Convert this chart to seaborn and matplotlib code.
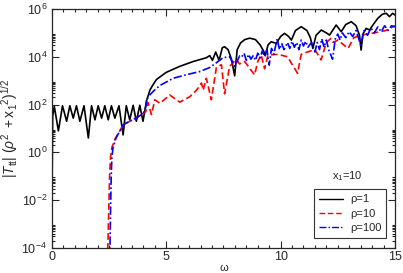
import matplotlib
matplotlib.use("Agg")
import matplotlib.pyplot as plt
import numpy as np
import pandas as pd
import seaborn as sns
from matplotlib.ticker import FixedLocator, NullFormatter, MultipleLocator

# values, stored as log10
rho1_w = [0.0, 0.03, 0.1, 0.28, 0.46, 0.64, 0.78, 0.93, 1.07, 1.22, 1.40, 1.59, 1.73, 1.88,
          2.02, 2.17, 2.31, 2.46, 2.6, 2.75, 2.93, 3.11, 3.25, 3.4, 3.55, 3.69, 3.84, 3.98,
          4.1, 4.13, 4.2, 4.28, 4.4, 4.57, 5.0, 5.59, 6.17, 6.75, 6.9, 7.02, 7.16, 7.31,
          7.45, 7.55, 7.7, 7.85, 7.99, 8.1, 8.25, 8.43, 8.65, 8.9, 9.1, 9.25, 9.33, 9.45,
          9.59, 9.81, 10.0, 10.17, 10.35, 10.47, 10.65, 10.9, 11.15, 11.3, 11.41, 11.55,
          11.78, 12.0, 12.14, 12.43, 12.65, 12.85, 13.09, 13.3, 13.45, 13.52, 13.6, 13.74,
          13.89, 14.05, 14.25, 14.45, 14.62, 14.76, 14.9, 15.0]
rho1_log = [-2.0, 1.5, 1.93, 0.9, 1.95, 1.3, 1.95, 1.43, 1.95, 1.3, 1.95, 0.6, 1.95, 1.36,
            1.95, 1.43, 1.95, 1.36, 1.95, 1.43, 1.95, 0.73, 1.95, 1.36, 1.97, 1.3, 1.97, 1.3,
            1.95, 2.15, 2.35, 2.6, 2.8, 3.05, 3.35, 3.6, 3.8, 3.96, 4.05, 3.85, 4.2, 3.85,
            4.38, 4.42, 4.3, 3.9, 3.2, 4.3, 4.58, 4.72, 4.78, 4.72, 4.5, 4.25, 4.05, 4.5,
            4.63, 4.56, 4.85, 4.98, 4.85, 4.70, 5.1, 5.26, 5.1, 4.8, 4.35, 4.9,
            5.12, 5.0, 4.91, 5.33, 5.05, 5.35, 5.47, 5.3, 4.9, 4.28, 4.95, 5.19,
            5.12, 5.35, 5.61, 5.78, 5.82, 5.68, 5.82, 5.75]

rho10_w = [2.43, 2.48, 2.52, 2.56, 2.62, 2.75, 3.0, 3.1, 3.4, 3.7, 3.95, 4.1, 4.2, 4.35,
           4.5, 4.72, 5.15, 5.59, 6.03, 6.32, 6.54, 6.61, 6.75, 6.97, 7.19, 7.41, 7.55,
           7.77, 8.06, 8.2, 8.43, 8.86, 9.0, 9.15, 9.3, 9.45, 9.9, 10.3, 10.74, 10.9, 11.2,
           11.5, 11.77, 12.0, 12.2, 12.3, 12.5, 12.95, 13.2, 13.5, 13.8, 14.1, 14.6, 15.0]
rho10_log = [-4.5, -2.5, -1.0, -0.2, 0.2, 0.55, 0.95, 1.15, 1.3, 1.45, 1.6, 1.7, 2.08, 1.58,
             2.2, 2.05, 2.4, 2.1, 2.33, 2.6, 2.9, 2.6, 3.1, 2.2, 3.55, 3.67, 2.45,
             3.6, 3.9, 3.7, 3.8, 3.24, 3.8, 4.08, 3.5, 4.08, 4.1, 4.0, 3.31, 4.1, 4.21,
             4.3, 3.87, 4.6, 4.77, 4.6, 4.7, 4.35, 4.8, 4.9, 4.95, 5.0, 5.1, 5.3]

rho100_w = [2.53, 2.56, 2.59, 2.62, 2.67, 2.8, 3.0, 3.1, 3.4, 3.7, 3.95, 4.06, 4.2, 4.48,
            4.72, 5.3, 5.88, 6.46, 6.9, 7.19, 7.48, 7.77, 7.99, 8.21, 8.3, 8.4, 8.5, 8.6,
            8.7, 8.8, 8.9, 9.0, 9.1, 9.2, 9.3, 9.4, 9.5, 9.6, 9.7, 9.85, 9.95, 10.05, 10.15,
            10.3, 10.4, 10.5, 10.6, 10.7, 10.8, 10.9, 11.0, 11.1, 11.2, 11.35, 11.5, 11.6,
            11.7, 11.8, 11.9, 12.0, 12.1, 12.27, 12.4, 12.5, 12.6, 12.7, 12.85, 13.0, 13.15,
            13.3, 13.5, 13.65, 13.8, 13.95, 14.1, 14.25, 14.4, 14.55, 14.7, 14.85, 15.0]
rho100_log = [-4.5, -2.5, -1.0, -0.2, 0.2, 0.6, 0.95, 1.15, 1.3, 1.45, 1.6, 1.75, 2.33, 2.6,
              2.8, 3.1, 3.25, 3.38, 3.55, 3.75, 3.96, 4.0, 3.6, 4.04, 4.0, 4.15, 3.85, 4.1,
              3.9, 4.05, 3.85, 4.15, 3.95, 4.25, 4.0, 4.3, 3.65, 4.35, 4.1, 4.75, 4.3, 4.55, 4.3,
              4.6, 4.35, 4.65, 4.4, 4.6, 4.3, 4.7, 4.45, 4.65, 4.4, 4.6, 4.2, 4.6,
              4.3, 4.75, 4.4, 4.7, 4.3, 3.9, 4.8, 4.95, 4.7, 5.0, 4.8, 5.05, 4.85,
              5.1, 4.5, 5.1, 4.9, 5.2, 5.0, 5.25, 5.05, 5.3, 5.1, 5.3, 5.25]

labels = ['ρ=1', 'ρ=10', 'ρ=100']
colors = ['black', 'red', 'blue']

frames = []
for lab, w, lg in zip(labels, [rho1_w, rho10_w, rho100_w], [rho1_log, rho10_log, rho100_log]):
    frames.append(pd.DataFrame({'omega': w, 'val': 10 ** np.array(lg), 'rho': lab}))
df = pd.concat(frames, ignore_index=True)

sns.set_style('ticks')
plt.rcParams['font.family'] = ['Liberation Sans', 'DejaVu Sans']
plt.rcParams['mathtext.fontset'] = 'custom'
plt.rcParams['mathtext.rm'] = 'Liberation Sans'
plt.rcParams['mathtext.it'] = 'Liberation Sans:italic'

fig = plt.figure(figsize=(4.03, 2.73), dpi=100)
ax = fig.add_axes([0.129, 0.092, 0.851, 0.875])

sns.lineplot(data=df, x='omega', y='val', hue='rho', style='rho', hue_order=labels,
             style_order=labels, palette=colors,
             dashes={'ρ=1': '', 'ρ=10': (4, 2), 'ρ=100': (5, 1.5, 1, 1.5)},
             estimator=None, sort=False, linewidth=1.2, ax=ax, legend=False)

ax.set_yscale('log')
ax.set_xlim(0, 15)
ax.set_ylim(1e-4, 1e6)
ax.xaxis.set_major_locator(MultipleLocator(5))
ax.xaxis.set_minor_locator(MultipleLocator(0.5))
ax.yaxis.set_major_locator(FixedLocator([1e-4, 1e-2, 1e0, 1e2, 1e4, 1e6]))
minor = [k * 10.0 ** m for m in [-4, -2, 0, 2, 4] for k in range(2, 10)]
ax.yaxis.set_minor_locator(FixedLocator(minor))
ax.yaxis.set_minor_formatter(NullFormatter())
ax.tick_params(which='both', direction='in', top=True, right=True, width=0.8)
ax.tick_params(which='major', length=5, labelsize=9)
ax.tick_params(axis='x', which='major', pad=2)
ax.tick_params(which='minor', length=2.5)
for sp in ax.spines.values():
    sp.set_linewidth(0.9)

ax.set_xlabel('ω', fontsize=8, labelpad=0)
ax.set_ylabel(r'$|T_{\rm tt}|\ (\rho^2\ {\rm +x_1}^2)^{1/2}$', fontsize=10, labelpad=1)

handles = [plt.Line2D([], [], color='black', lw=1.0),
           plt.Line2D([], [], color='red', lw=1.0, dashes=(4, 2)),
           plt.Line2D([], [], color='blue', lw=1.0, dashes=(5, 1.5, 1, 1.5))]
leg = ax.legend(handles, labels, loc='lower right', bbox_to_anchor=(0.975, 0.04),
                fontsize=8, frameon=True, fancybox=False, handlelength=2.2,
                borderpad=0.45, labelspacing=0.4, handletextpad=0.6, borderaxespad=0)
leg.get_frame().set_edgecolor('black')
leg.get_frame().set_linewidth(0.8)
ax.text(0.86, 0.3, r'x$_1$=10', transform=ax.transAxes, ha='center', va='center', fontsize=8)

fig.savefig('out.png', dpi=100)
